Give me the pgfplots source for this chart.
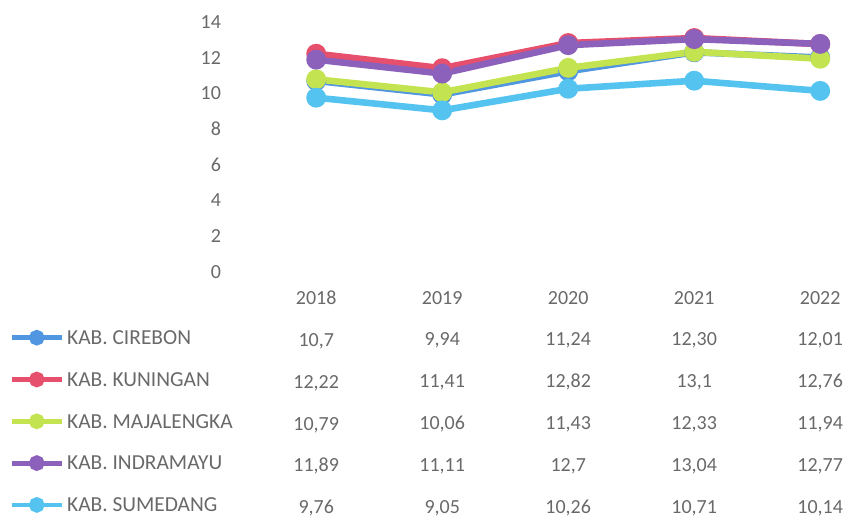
\documentclass[border=0pt]{standalone}
\usepackage{pgfplots}
\pgfplotsset{compat=1.18}
\usepackage{fontspec}
\setmainfont{Carlito}
\definecolor{cCir}{RGB}{80,150,225}
\definecolor{cKun}{RGB}{230,80,108}
\definecolor{cMaj}{RGB}{195,228,80}
\definecolor{cInd}{RGB}{140,97,188}
\definecolor{cSum}{RGB}{85,195,240}
\definecolor{txt}{RGB}{105,105,105}
\begin{document}
\begin{tikzpicture}
\path[use as bounding box] (0,0) rectangle (430bp,260.5bp);
\begin{axis}[
  at={(114bp,124.5bp)}, anchor=south west,
  x=63bp, y=8.93bp,
  xmin=-0.7, xmax=4.32, ymin=0, ymax=14,
  axis line style={draw=none},
  tick style={draw=none},
  ytick={0,2,...,14},
  xtick={0,1,2,3,4},
  xticklabels={{2018\\10,7\\12,22\\10,79\\11,89\\9,76},
               {2019\\9,94\\11,41\\10,06\\11,11\\9,05},
               {2020\\11,24\\12,82\\11,43\\12,7\\10,26},
               {2021\\12,30\\13,1\\12,33\\13,04\\10,71},
               {2022\\12,01\\12,76\\11,94\\12,77\\10,14}},
  xticklabel style={align=center, font=\fontsize{10bp}{20.9bp}\selectfont, text=txt, yshift=-6bp},
  yticklabel style={font=\fontsize{10bp}{12bp}\selectfont, text=txt},
  /pgf/number format/assume math mode=true,
  every axis plot/.append style={line width=3.3bp, mark=*, mark size=3.3bp},
  legend image code/.code={\draw[mark repeat=2,mark phase=2,#1,line width=2.4bp,mark size=2.7bp] plot coordinates {(0bp,0.3bp) (12.5bp,0.3bp) (25bp,0.3bp)};},
  legend cell align=left,
  legend style={at={(axis description cs:0,0)}, anchor=north west,
    xshift=-109.5bp, yshift=-22.5bp, draw=none, fill=none,
    inner sep=0pt, row sep=0pt, column sep=1.5bp,
    nodes={inner sep=0pt, text height=13.5bp, text depth=7.4bp},
    font=\fontsize{10.7bp}{12bp}\selectfont, text=txt},
]
\addplot[color=cCir] coordinates {(0,10.7) (1,9.94) (2,11.24) (3,12.30) (4,12.01)};
\addlegendentry{KAB. CIREBON}
\addplot[color=cKun] coordinates {(0,12.22) (1,11.41) (2,12.82) (3,13.1) (4,12.76)};
\addlegendentry{KAB. KUNINGAN}
\addplot[color=cMaj] coordinates {(0,10.79) (1,10.06) (2,11.43) (3,12.33) (4,11.94)};
\addlegendentry{KAB. MAJALENGKA}
\addplot[color=cInd] coordinates {(0,11.89) (1,11.11) (2,12.7) (3,13.04) (4,12.77)};
\addlegendentry{KAB. INDRAMAYU}
\addplot[color=cSum] coordinates {(0,9.76) (1,9.05) (2,10.26) (3,10.71) (4,10.14)};
\addlegendentry{KAB. SUMEDANG}
\end{axis}
\end{tikzpicture}
\end{document}
